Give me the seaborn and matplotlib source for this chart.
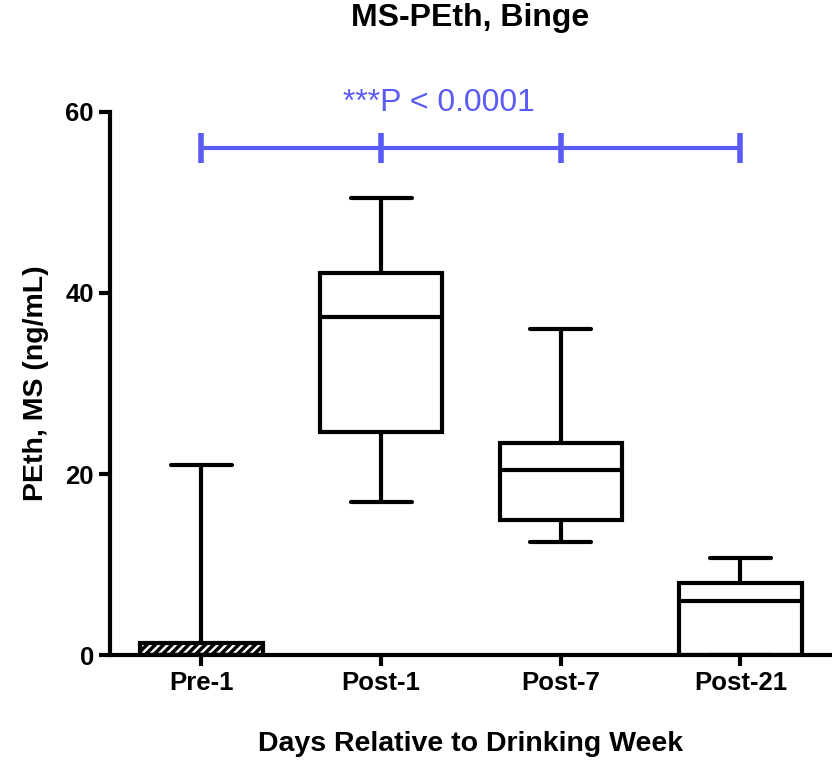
import pandas as pd
import seaborn as sns
import matplotlib.pyplot as plt

# five-number summaries (min, q1, median, q3, max)
days = ["Pre-1", "Post-1", "Post-7", "Post-21"]
pre_1 = [0.0, 0.0, 0.0, 1.3, 21.0]
post_1 = [16.9, 24.6, 37.3, 42.2, 50.5]
post_7 = [12.5, 14.9, 20.4, 23.4, 36.0]
post_21 = [0.0, 0.0, 6.0, 8.0, 10.7]

sig_y = 56
sig_text = "***P < 0.0001"

df = pd.DataFrame({
    "day": [d for d, v in zip(days, [pre_1, post_1, post_7, post_21]) for _ in v],
    "peth": pre_1 + post_1 + post_7 + post_21,
})

sns.set_style("ticks")
plt.rcParams["font.family"] = ["Liberation Sans", "DejaVu Sans"]
plt.rcParams["hatch.linewidth"] = 2.5
plt.rcParams["text.color"] = "black"
plt.rcParams["axes.labelcolor"] = "black"

fig = plt.figure(figsize=(8.32, 7.61), dpi=100)
ax = fig.add_axes([0.132, 0.139, 0.866, 0.714])

sns.boxplot(data=df, x="day", y="peth", order=days, whis=(0, 100),
            width=0.68, color="white", linecolor="black", linewidth=3,
            ax=ax)

# hatched box for baseline
ax.patches[0].set_hatch("////")

# significance bar
blue = "#5a5af5"
ax.plot(range(len(days)), [sig_y] * len(days), color=blue, lw=3,
        marker="|", markersize=22, markeredgewidth=4, clip_on=False, zorder=5)
ax.text(1.32, 61.0, sig_text, color=blue, fontsize=23, ha="center", va="center")

ax.set_ylim(0, 60)
ax.set_xlim(-0.51, 3.5)
ax.set_yticks([0, 20, 40, 60])
ax.set_title("MS-PEth, Binge", fontsize=23, fontweight="bold", pad=62)
ax.set_xlabel("Days Relative to Drinking Week", fontsize=20.5, fontweight="bold", labelpad=26)
ax.set_ylabel("PEth, MS (ng/mL)", fontsize=20.5, fontweight="bold", labelpad=12)
for lab in ax.get_xticklabels() + ax.get_yticklabels():
    lab.set_fontweight("bold")
ax.tick_params(labelsize=18.5, width=3, length=8, color="black", labelcolor="black")
for side in ["left", "bottom"]:
    ax.spines[side].set_linewidth(3)
    ax.spines[side].set_color("black")
sns.despine(ax=ax)

fig.savefig("out.png", dpi=100)
